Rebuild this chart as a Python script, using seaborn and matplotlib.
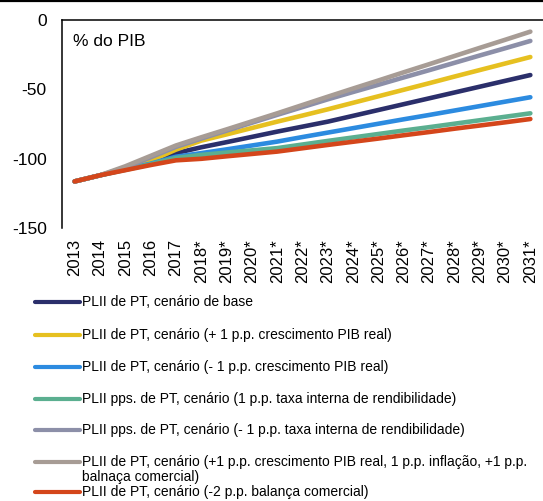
import matplotlib
matplotlib.use("Agg")
import matplotlib.pyplot as plt
from matplotlib.lines import Line2D
import seaborn as sns
import pandas as pd

years = ["2013", "2014", "2015", "2016", "2017", "2018*", "2019*", "2020*", "2021*",
         "2022*", "2023*", "2024*", "2025*", "2026*", "2027*", "2028*", "2029*",
         "2030*", "2031*"]

base = [-116.4, -112.0, -107.5, -102.5, -96.0, -91.8, -88.1, -84.3, -80.5, -76.9,
        -73.3, -69.1, -64.9, -60.7, -56.5, -52.3, -48.1, -43.9, -39.7]
pib_up = [-116.4, -112.0, -107.0, -101.5, -93.5, -87.0, -82.5, -77.9, -73.3, -68.9,
          -64.4, -59.7, -55.0, -50.3, -45.6, -40.8, -36.1, -31.4, -26.7]
pib_down = [-116.4, -112.0, -107.8, -103.6, -98.6, -96.0, -93.3, -90.5, -87.7, -84.4,
            -81.2, -78.0, -74.8, -71.6, -68.5, -65.3, -62.1, -58.9, -55.7]
tir_up = [-116.4, -112.0, -108.1, -104.0, -99.5, -97.3, -95.6, -94.0, -92.4, -89.8,
          -87.2, -84.7, -82.2, -79.7, -77.3, -74.8, -72.3, -69.8, -67.3]
tir_down = [-116.4, -112.0, -106.5, -99.0, -91.5, -85.5, -79.8, -74.1, -68.4, -62.8,
            -57.2, -51.9, -46.7, -41.4, -36.2, -30.9, -25.6, -20.4, -15.1]
combo = [-116.4, -112.0, -105.5, -98.0, -90.5, -84.6, -78.9, -73.1, -67.3, -61.3,
         -55.3, -49.4, -43.6, -37.7, -31.9, -26.0, -20.1, -14.3, -8.4]
bc_down = [-116.4, -112.0, -108.3, -104.6, -101.2, -100.1, -98.3, -96.6, -94.9, -92.5,
           -90.1, -87.8, -85.5, -83.1, -80.8, -78.4, -76.1, -73.8, -71.4]

labels = [
    "PLII de PT, cenário de base",
    "PLII de PT, cenário (+ 1 p.p. crescimento PIB real)",
    "PLII de PT, cenário (- 1 p.p. crescimento PIB real)",
    "PLII pps. de PT, cenário (1 p.p. taxa interna de rendibilidade)",
    "PLII pps. de PT, cenário (- 1 p.p. taxa interna de rendibilidade)",
    "PLII de PT, cenário (+1 p.p. crescimento PIB real, 1 p.p. inflação, +1 p.p.\nbalnaça comercial)",
    "PLII de PT, cenário (-2 p.p. balança comercial)",
]
series = [base, pib_up, pib_down, tir_up, tir_down, combo, bc_down]
colors = ["#2B2F6B", "#E6C020", "#2C8BE0", "#5BAF90", "#8C8FA8", "#A79C95", "#D4461B"]

rows = []
for lab, vals in zip(labels, series):
    for i, (yr, v) in enumerate(zip(years, vals)):
        rows.append({"idx": i, "ano": yr, "valor": v, "serie": lab})
df = pd.DataFrame(rows)

sns.set_theme(style="white")
plt.rcParams["font.family"] = ["Liberation Sans", "DejaVu Sans"]

W, H = 543, 501
fig = plt.figure(figsize=(W / 100, H / 100), dpi=100)
ax = fig.add_axes([62 / W, 1 - 228 / H, (W - 62) / W, (228 - 20) / H])

sns.lineplot(data=df, x="idx", y="valor", hue="serie", hue_order=labels,
             palette=colors, linewidth=3.3, legend=False, ax=ax,
             solid_capstyle="round", sort=False)

ax.set_xlim(-0.5, len(years) - 0.5)
ax.set_ylim(-150, 0)
ax.set_yticks([0, -50, -100, -150])
ax.set_yticklabels(["0", "-50", "-100", "-150"], fontsize=12.5, color="black")
ax.set_xticks(range(len(years)))
ax.set_xticklabels(years, rotation=90, fontsize=12, color="black")
ax.tick_params(axis="x", length=0, pad=8)
ax.tick_params(axis="y", length=0, pad=11)
ax.set_xlabel("")
ax.set_ylabel("")
for s in ["bottom", "right"]:
    ax.spines[s].set_visible(False)
for s in ["left", "top"]:
    ax.spines[s].set_visible(True)
    ax.spines[s].set_color("black")
    ax.spines[s].set_linewidth(1.1)
ax.grid(False)

ax.text(0.023, 0.895, "% do PIB", transform=ax.transAxes, fontsize=12.5,
        ha="left", va="center", color="black")

# top border line
fig.add_artist(Line2D([0, 1], [1 - 1.3 / H, 1 - 1.3 / H], transform=fig.transFigure,
                      color="black", linewidth=1.6))

# legend drawn manually
leg_y = [302, 335, 367, 399, 430, 462, 492]
for lab, col, yy in zip(labels, colors, leg_y):
    yf = 1 - yy / H
    fig.add_artist(Line2D([35 / W, 80 / W], [yf, yf], transform=fig.transFigure,
                          color=col, linewidth=3.0, solid_capstyle="round"))
    lines = lab.split("\n")
    for k, ln in enumerate(lines):
        fig.text(82 / W, 1 - (yy + 15.5 * k) / H, ln, fontsize=10, ha="left",
                 va="center", color="black")

fig.savefig("out.png", dpi=100)
